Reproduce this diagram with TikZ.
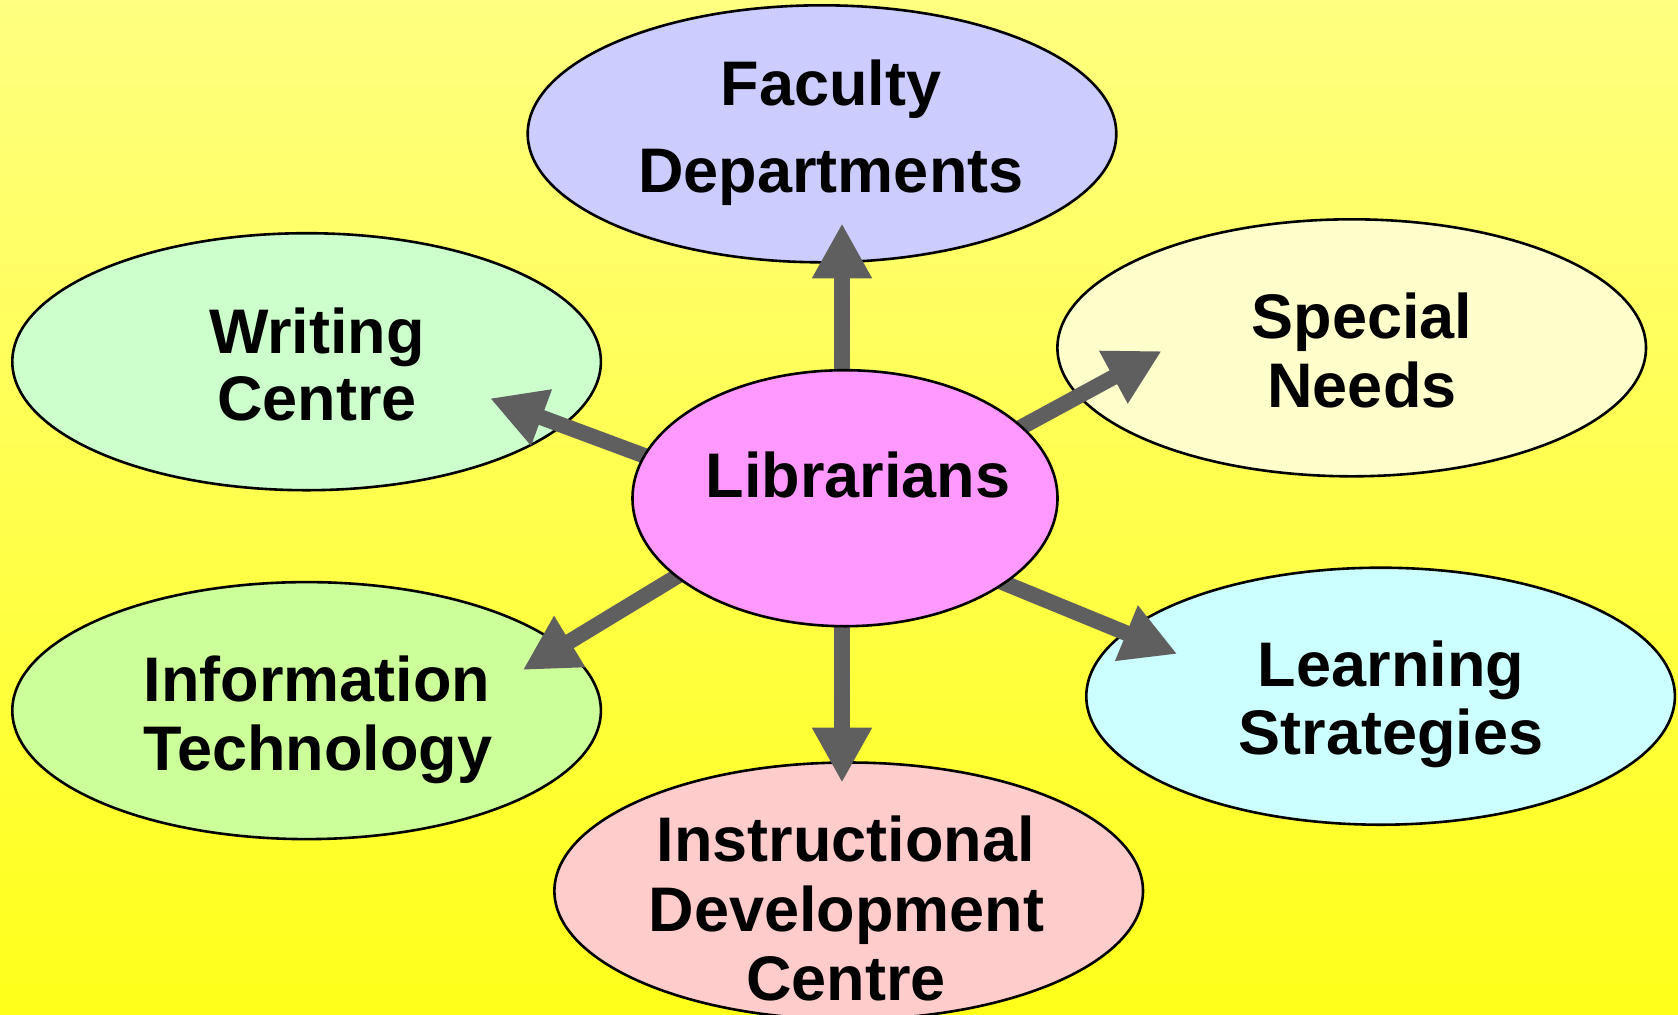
\documentclass[tikz,border=0pt]{standalone}
\usepackage{fontspec}
\setmainfont{Liberation Sans}
\usetikzlibrary{shapes.geometric,arrows.meta}
\definecolor{bgtop}{HTML}{FFFF80}
\definecolor{bgbot}{HTML}{FFFF1A}
\definecolor{arrowgray}{HTML}{5F5F5F}
\definecolor{facfill}{HTML}{CCCCFF}
\definecolor{wrifill}{HTML}{CCFFCC}
\definecolor{spefill}{HTML}{FFFFCC}
\definecolor{libfill}{HTML}{FF99FF}
\definecolor{inffill}{HTML}{CCFF99}
\definecolor{leafill}{HTML}{CCFFFF}
\definecolor{insfill}{HTML}{FFCCCC}
\pgfdeclarelayer{bglayer}
\pgfdeclarelayer{arrlayer}
\pgfsetlayers{bglayer,arrlayer,main}
\begin{document}
\begin{tikzpicture}[x=0.5pt,y=-0.5pt,
  bubble/.style={ellipse,draw=black,line width=1.3pt,inner sep=0pt,minimum width=294.3pt,minimum height=128.5pt},
  lbl/.style={anchor=base,inner sep=0pt,font=\bfseries\fontsize{31.5}{38}\selectfont},
  link/.style={draw=arrowgray,line width=7.8pt,-{Triangle[length=27.5pt,width=28pt]},shorten <=-8pt}]
\useasboundingbox (0,0) rectangle (1678,1014);
\begin{pgfonlayer}{bglayer}
\shade[top color=bgtop,bottom color=bgbot] (0,0) rectangle (1678,1014);
\node[bubble,fill=facfill] (fac) at (822,133.8) {};
\node[bubble,fill=wrifill] (wri) at (306.6,361.7) {};
\node[bubble,fill=spefill] (spe) at (1351.7,347.8) {};
\node[bubble,fill=inffill] (inf) at (306.6,710.6) {};
\node[bubble,fill=leafill] (lea) at (1380.6,696.2) {};
\node[bubble,fill=insfill] (ins) at (848.7,891) {};
\end{pgfonlayer}
\node[bubble,fill=libfill,minimum width=212.5pt,minimum height=128pt] (lib) at (845,498.2) {};
% arrow tips
\coordinate (tF) at (842,223.3);
\coordinate (tW) at (490,398.3);
\coordinate (tS) at (1161.7,351);
\coordinate (tInf) at (522.7,670);
\coordinate (tL) at (1177.3,654);
\coordinate (tIns) at (842,782.7);
\begin{pgfonlayer}{arrlayer}
\draw[link] (tF |- lib.north) -- (tF);
\draw[link] (lib.168.6) -- (tW);
\draw[link] (lib.22.3) -- (tS);
\draw[link] (lib.205.3) -- (tInf);
\draw[link] (lib.332.6) -- (tL);
\draw[link] (tIns |- lib.south) -- (tIns);
\end{pgfonlayer}
% texts
\node[lbl] (fac1) at (831,105) {Faculty};
\node[lbl] (fac2) at (831,192) {Departments};
\node[lbl] (wri1) at (317,353) {Writing};
\node[lbl] (wri2) at (317,420.6) {Centre};
\node[lbl] (spe1) at (1362,338) {Special};
\node[lbl] (spe2) at (1362,407.7) {Needs};
\node[lbl] (lib1) at (858,497) {Librarians};
\node[lbl] (inf1) at (317,701) {Information};
\node[lbl] (inf2) at (318,770.5) {Technology};
\node[lbl] (lea1) at (1391,686) {Learning};
\node[lbl] (lea2) at (1391,754.5) {Strategies};
\node[lbl] (ins1) at (845.5,861.5) {Instructional};
\node[lbl] (ins2) at (846.5,931) {Development};
\node[lbl] (ins3) at (846,1000.6) {Centre};
\end{tikzpicture}
\end{document}
